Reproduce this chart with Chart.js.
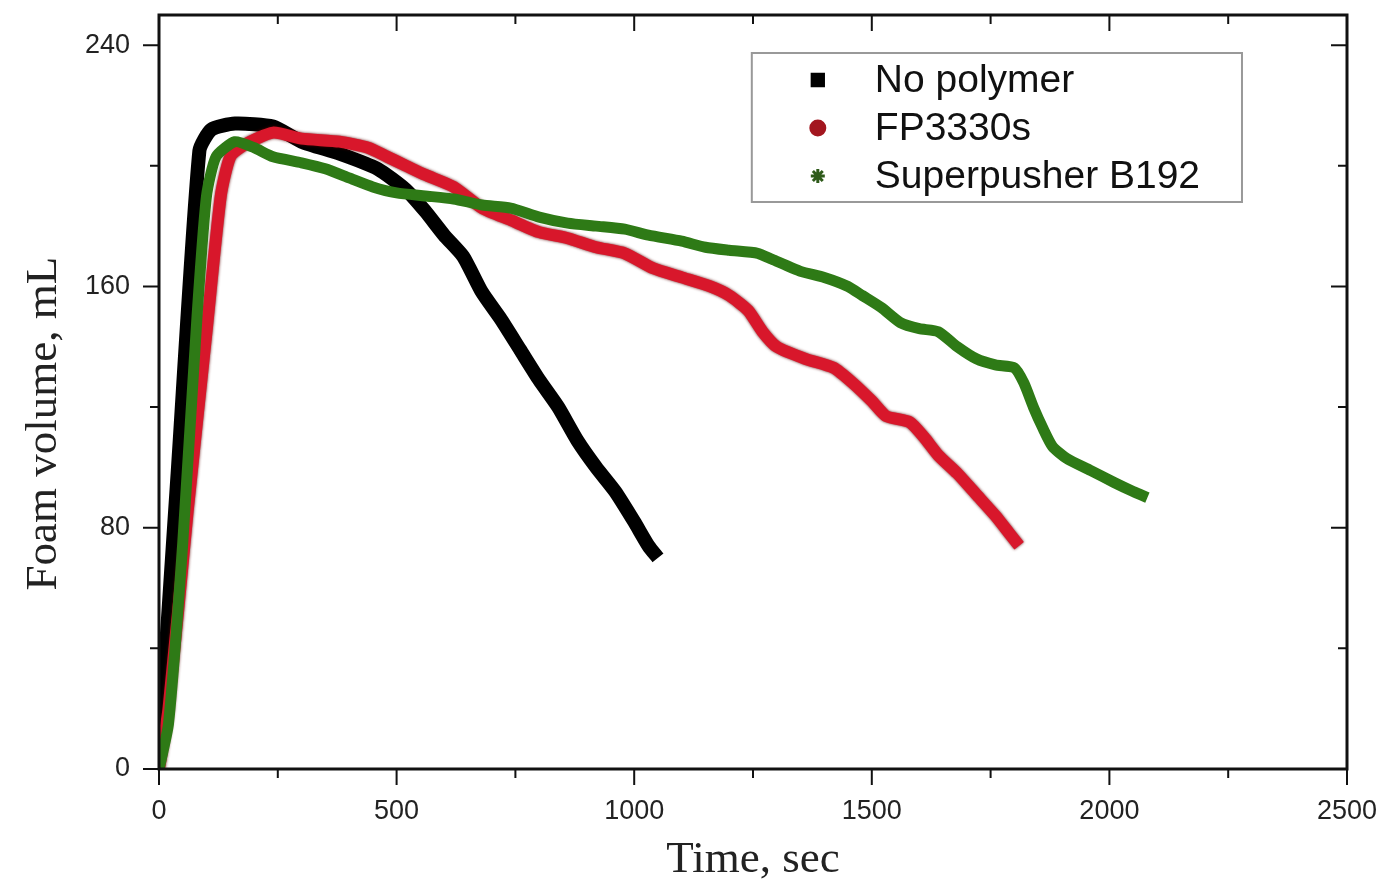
<!DOCTYPE html>
<html>
<head>
<meta charset="utf-8">
<script src="https://cdn.jsdelivr.net/npm/chart.js@4.4.1/dist/chart.umd.min.js"></script>
<style>
  body { margin: 0; background: #fff; }
  #wrap { width: 1387px; height: 885px; }
</style>
</head>
<body>
<div id="wrap"><canvas id="foam" width="1387" height="885"></canvas></div>
<script>
// axis ticks (minor ticks included, labels only on majors)
const xTickValues = [0, 250, 500, 750, 1000, 1250, 1500, 1750, 2000, 2250, 2500];
const xMajorStep = 500;
const yTickValues = [0, 40, 80, 120, 160, 200, 240];
const yMajorStep = 80;

const seriesLabels = ['No polymer', 'FP3330s', 'Superpusher B192'];

// No polymer
const timeNoPolymer = [0, 40, 85, 110, 160, 240, 300, 380, 460, 520, 560, 600, 640, 680, 720, 760, 800, 840, 880, 920, 960, 1000, 1030, 1050];
const volNoPolymer  = [5, 100, 205, 212, 214, 213, 208, 204, 199, 192, 185, 177, 170, 158, 149, 139, 129, 120, 109, 100, 92, 82, 74, 70];

// FP3330s
const timeFP = [0, 20, 60, 100, 130, 150, 180, 240, 300, 380, 440, 480, 520, 560, 620, 680, 740, 800, 860, 920, 980, 1040, 1100, 1160, 1200, 1240, 1270, 1300, 1360, 1420, 1460, 1500, 1530, 1580, 1610, 1640, 1680, 1720, 1760, 1790, 1810];
const volFP  = [0, 20, 85, 145, 190, 203, 207, 211, 209, 208, 206, 203, 200, 197, 193, 186, 182, 178, 176, 173, 171, 166, 163, 160, 157, 152, 145, 140, 136, 133, 128, 122, 117, 115, 110, 104, 98, 91, 84, 78, 74];

// Superpusher B192
const timeSP = [0, 20, 50, 80, 100, 120, 160, 200, 240, 300, 350, 400, 450, 500, 560, 620, 680, 740, 800, 860, 920, 980, 1030, 1100, 1150, 1200, 1260, 1290, 1350, 1400, 1450, 1480, 1520, 1560, 1600, 1640, 1680, 1720, 1760, 1800, 1820, 1840, 1860, 1880, 1910, 1960, 2010, 2050, 2080];
const volSP  = [0, 15, 75, 150, 190, 203, 208, 206, 203, 201, 199, 196, 193, 191, 190, 189, 187, 186, 183, 181, 180, 179, 177, 175, 173, 172, 171, 169, 165, 163, 160, 157, 153, 148, 146, 145, 140, 136, 134, 133, 128, 120, 113, 107, 103, 99, 95, 92, 90];

function toPoints(xs, ys) {
  return xs.map((x, i) => ({ x: x, y: ys[i] }));
}

const tickFont = { family: 'Liberation Sans, Arial, sans-serif', size: 27 };
const titleFont = { family: 'Liberation Serif, Times New Roman, serif', size: 45, lineHeight: 1.1 };

// frame + tick marks like the original plot (left/bottom out, top/right in)
const framePlugin = {
  id: 'frame',
  afterDraw(chart) {
    const ctx = chart.ctx;
    const ca = chart.chartArea;
    const xs = chart.scales.x;
    const ys = chart.scales.y;
    ctx.save();
    ctx.strokeStyle = '#111';
    ctx.lineWidth = 2;
    xs.ticks.forEach(t => {
      const px = xs.getPixelForValue(t.value);
      const len = t.value % xMajorStep === 0 ? 16 : 9;
      ctx.beginPath();
      ctx.moveTo(px, ca.bottom); ctx.lineTo(px, ca.bottom + len);
      ctx.moveTo(px, ca.top); ctx.lineTo(px, ca.top + len);
      ctx.stroke();
    });
    ys.ticks.forEach(t => {
      const py = ys.getPixelForValue(t.value);
      const len = t.value % yMajorStep === 0 ? 16 : 9;
      ctx.beginPath();
      ctx.moveTo(ca.left - len, py); ctx.lineTo(ca.left, py);
      ctx.moveTo(ca.right - len, py); ctx.lineTo(ca.right, py);
      ctx.stroke();
    });
    ctx.lineWidth = 3;
    ctx.strokeRect(ca.left, ca.top, ca.right - ca.left, ca.bottom - ca.top);

    // y axis title
    ctx.fillStyle = '#222';
    ctx.font = '45px "Liberation Serif", "Times New Roman", serif';
    ctx.textAlign = 'center';
    ctx.textBaseline = 'middle';
    ctx.translate(44, ca.top + (ca.bottom - ca.top) * 0.542);
    ctx.rotate(-Math.PI / 2);
    ctx.fillText('Foam volume, mL', 0, 0);
    ctx.restore();
  }
};

// dark rim around the red marker trace
const rimPlugin = {
  id: 'rim',
  beforeDatasetDraw(chart, args) {
    if (args.index !== 1) return;
    const ctx = chart.ctx;
    ctx.save();
    ctx.shadowColor = 'rgba(90, 0, 0, 0.9)';
    ctx.shadowBlur = 3;
  },
  afterDatasetDraw(chart, args) {
    if (args.index !== 1) return;
    chart.ctx.restore();
  }
};

// boxed legend inside the plot, top right
const legendPlugin = {
  id: 'boxLegend',
  afterDraw(chart) {
    const ctx = chart.ctx;
    const ca = chart.chartArea;
    const w = ca.right - ca.left, h = ca.bottom - ca.top;
    const bx = ca.left + w * 0.499, by = ca.top + h * 0.0504;
    const bw = w * 0.4126, bh = h * 0.1976;
    ctx.save();
    ctx.fillStyle = '#fff';
    ctx.fillRect(bx, by, bw, bh);
    ctx.strokeStyle = '#999';
    ctx.lineWidth = 2;
    ctx.strokeRect(bx, by, bw, bh);
    ctx.font = '39px "Liberation Sans", Arial, sans-serif';
    ctx.textBaseline = 'middle';
    ctx.textAlign = 'left';
    chart.data.datasets.forEach((ds, i) => {
      const ry = by + 27 + i * 48;
      const mx = bx + 66;
      ctx.fillStyle = ds.legendFill;
      ctx.strokeStyle = ds.legendFill;
      ctx.lineWidth = 3;
      Chart.helpers.drawPoint(ctx, {
        pointStyle: ds.legendStyle,
        radius: ds.legendRadius,
        rotation: 0,
        borderWidth: 3
      }, mx, ry);
      ctx.fillStyle = '#111';
      ctx.fillText(ds.label, bx + 123, ry + 1);
    });
    ctx.restore();
  }
};

const zeroPad = scale => {
  scale.paddingTop = 0;
  scale.paddingBottom = 0;
  scale.paddingLeft = 0;
  scale.paddingRight = 0;
};

const ctx = document.getElementById('foam');
new Chart(ctx, {
  type: 'scatter',
  data: {
    datasets: [
      {
        label: seriesLabels[0],
        data: toPoints(timeNoPolymer, volNoPolymer),
        showLine: true,
        borderColor: '#000',
        backgroundColor: '#000',
        borderWidth: 14,
        pointRadius: 0,
        tension: 0.2,
        order: 3,
        legendStyle: 'rect',
        legendFill: '#000',
        legendRadius: 8
      },
      {
        label: seriesLabels[1],
        data: toPoints(timeFP, volFP),
        showLine: true,
        borderColor: '#d8172b',
        backgroundColor: '#a3161f',
        borderWidth: 12,
        pointRadius: 0,
        tension: 0.2,
        order: 2,
        legendStyle: 'circle',
        legendFill: '#a3161f',
        legendRadius: 7
      },
      {
        label: seriesLabels[2],
        data: toPoints(timeSP, volSP),
        showLine: true,
        borderColor: '#2e7a16',
        backgroundColor: '#2e7a16',
        borderWidth: 11,
        pointRadius: 0,
        tension: 0.2,
        order: 1,
        legendStyle: 'star',
        legendFill: '#2e5a1a',
        legendRadius: 7
      }
    ]
  },
  options: {
    responsive: false,
    animation: false,
    layout: { padding: { top: 15, right: 40, left: 0, bottom: 0 } },
    plugins: {
      legend: { display: false },
      tooltip: { enabled: false }
    },
    scales: {
      x: {
        type: 'linear',
        min: 0,
        max: 2500,
        afterBuildTicks: scale => { scale.ticks = xTickValues.map(v => ({ value: v })); },
        afterFit: scale => { scale.height = 116; zeroPad(scale); },
        grid: { display: false, drawTicks: false },
        border: { display: false },
        ticks: {
          autoSkip: false,
          maxRotation: 0,
          padding: 26,
          color: '#222',
          font: tickFont,
          callback: v => (v % xMajorStep === 0 ? v : '')
        },
        title: {
          display: true,
          text: 'Time, sec',
          color: '#222',
          font: titleFont,
          padding: { top: 0, bottom: 0 }
        }
      },
      y: {
        type: 'linear',
        min: 0,
        max: 250,
        afterBuildTicks: scale => { scale.ticks = yTickValues.map(v => ({ value: v })); },
        afterFit: scale => { scale.width = 159; zeroPad(scale); },
        grid: { display: false, drawTicks: false },
        border: { display: false },
        ticks: {
          autoSkip: false,
          padding: 29,
          color: '#222',
          font: tickFont,
          callback: v => (v % yMajorStep === 0 ? v : '')
        }
      }
    }
  },
  plugins: [rimPlugin, framePlugin, legendPlugin]
});
</script>
</body>
</html>
